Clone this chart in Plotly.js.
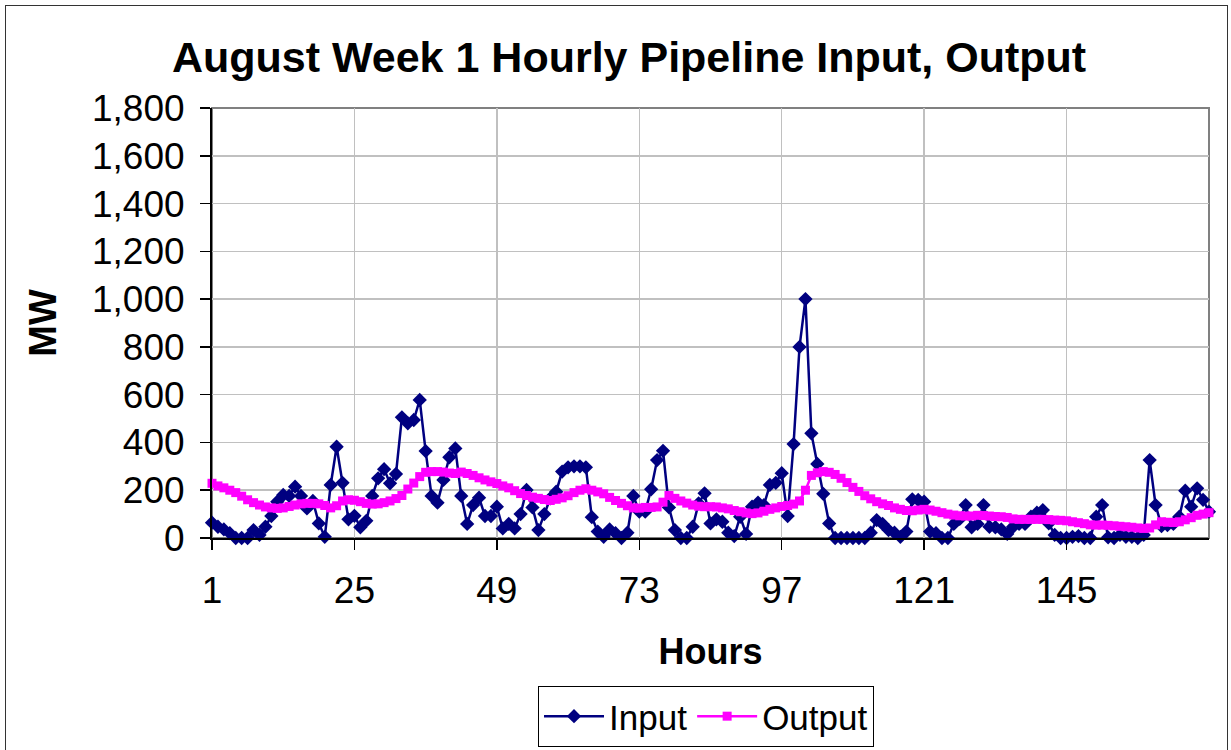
<!DOCTYPE html>
<html>
<head>
<meta charset="utf-8">
<script src="https://cdn.plot.ly/plotly-3.0.1.min.js"></script>
<style>
  html, body { margin: 0; padding: 0; background: #fff; }
  #wrap { position: relative; width: 1231px; height: 750px; overflow: hidden; }
  #chart { width: 1231px; height: 750px; }
  #frame { position: absolute; left: 5px; top: 5px; width: 1221px; height: 800px;
           border: 1px solid #333; pointer-events: none; }
</style>
</head>
<body>
<div id="wrap"><div id="chart"></div><div id="frame"></div></div>
<script>
// Hourly values, hours 1..169
const inputMW = [
  64, 47, 36, 20, 0, 0, 0, 33, 13, 47,
  92, 152, 180, 176, 215, 176, 124, 155, 61, 5,
  222, 382, 231, 78, 93, 45, 72, 176, 250, 288,
  229, 268, 505, 480, 494, 578, 364, 176, 148, 243,
  338, 375, 176, 59, 138, 169, 92, 92, 131, 40,
  59, 40, 100, 201, 128, 33, 100, 166, 194, 278,
  296, 300, 300, 296, 87, 27, 5, 36, 20, 0,
  22, 176, 110, 110, 204, 326, 365, 128, 33, 0,
  0, 47, 145, 187, 61, 78, 68, 22, 8, 89,
  17, 131, 148, 138, 222, 231, 271, 92, 393, 800,
  1000, 438, 310, 185, 61, 0, 0, 0, 0, 0,
  0, 22, 75, 59, 33, 22, 5, 27, 162, 159,
  152, 27, 20, 0, 0, 59, 80, 138, 45, 59,
  138, 47, 45, 36, 17, 47, 59, 59, 89, 106,
  117, 61, 13, 0, 0, 5, 8, 0, 0, 89,
  138, 3, 0, 13, 5, 5, 0, 13, 326, 138,
  50, 54, 59, 89, 198, 131, 208, 160, 110
];
const outputMW = [
  229, 218, 210, 200, 190, 175, 160, 148, 138, 130,
  126, 124, 126, 132, 138, 143, 145, 145, 143, 136,
  126, 135, 155, 160, 158, 152, 145, 142, 143, 148,
  155, 165, 178, 205, 230, 257, 275, 278, 278, 276,
  272, 270, 276, 270, 262, 252, 243, 235, 228, 218,
  210, 198, 186, 178, 171, 166, 161, 157, 162, 168,
  177, 190, 200, 206, 200, 193, 185, 170, 157, 145,
  135, 126, 125, 128, 128, 130, 150, 178, 166, 155,
  146, 138, 133, 131, 131, 130, 126, 122, 115, 110,
  105, 102, 105, 112, 120, 126, 132, 136, 142, 155,
  200, 262, 273, 278, 275, 266, 250, 232, 212, 195,
  177, 164, 152, 143, 136, 126, 120, 115, 114, 117,
  120, 117, 112, 106, 100, 96, 93, 92, 92, 95,
  94, 92, 90, 89, 86, 80, 78, 78, 78, 78,
  78, 77, 75, 74, 72, 68, 64, 60, 55, 54,
  54, 53, 51, 49, 47, 45, 42, 40, 42, 55,
  68, 66, 65, 68, 76, 85, 95, 100, 106
];
const seriesNames = ["Input", "Output"];
const xTickVals = [1, 25, 49, 73, 97, 121, 145];
const yTickVals = [0, 200, 400, 600, 800, 1000, 1200, 1400, 1600, 1800];

const FONT = "Liberation Sans, Arial, sans-serif";

const traces = [
  {
    name: seriesNames[0], y: inputMW, x0: 1, dx: 1,
    type: "scatter", mode: "lines+markers", cliponaxis: false,
    line: { color: "#000080", width: 2.5 },
    marker: { symbol: "diamond", size: 11, color: "#000080" }
  },
  {
    name: seriesNames[1], y: outputMW, x0: 1, dx: 1,
    type: "scatter", mode: "lines+markers", cliponaxis: false,
    line: { color: "#FF00FF", width: 2.5 },
    marker: { symbol: "square", size: 9, color: "#FF00FF" }
  }
];

const layout = {
  width: 1231, height: 750,
  paper_bgcolor: "#ffffff", plot_bgcolor: "#ffffff",
  margin: { l: 212, r: 22, t: 108, b: 212, autoexpand: false },
  font: { family: FONT, color: "#000", size: 34 },
  title: {
    text: "<b>August Week 1 Hourly Pipeline Input, Output</b>",
    font: { family: FONT, size: 43, color: "#000" },
    xref: "container", x: 0.511, xanchor: "center",
    yref: "container", y: 0.924, yanchor: "middle"
  },
  xaxis: {
    range: [1, 169], tickmode: "array", tickvals: xTickVals,
    ticks: "outside", ticklen: 10, tickwidth: 1.5, tickcolor: "#000",
    showline: true, linecolor: "#000", linewidth: 2,
    showgrid: true, gridcolor: "#c0c0c0", gridwidth: 1.5,
    zeroline: false,
    tickfont: { family: FONT, size: 37 },
    ticklabelstandoff: 9,
    title: { text: "<b>Hours</b>", font: { family: FONT, size: 36 }, standoff: 28 }
  },
  yaxis: {
    range: [0, 1800], tickmode: "array", tickvals: yTickVals,
    tickformat: ",d",
    ticks: "outside", ticklen: 10, tickwidth: 1.5, tickcolor: "#000",
    showline: true, linecolor: "#000", linewidth: 2,
    showgrid: true, gridcolor: "#c0c0c0", gridwidth: 1.5,
    zeroline: false,
    tickfont: { family: FONT, size: 37 },
    ticklabelstandoff: 8,
    title: { text: "<b>MW</b>", font: { family: FONT, size: 38 }, standoff: 24 }
  },
  shapes: [
    { type: "rect", xref: "paper", yref: "paper", x0: 0, x1: 1, y0: 0, y1: 1,
      line: { color: "#808080", width: 2 }, layer: "below" }
  ],
  showlegend: true,
  legend: {
    orientation: "h",
    x: 0.4955, xanchor: "center", xref: "paper",
    y: -0.344, yanchor: "top", yref: "paper",
    bordercolor: "#000", borderwidth: 1, bgcolor: "#fff",
    font: { family: FONT, size: 35 },
    itemwidth: 60, tracegroupgap: 0
  }
};

Plotly.newPlot("chart", traces, layout, { displayModeBar: false, staticPlot: true });
</script>
</body>
</html>
